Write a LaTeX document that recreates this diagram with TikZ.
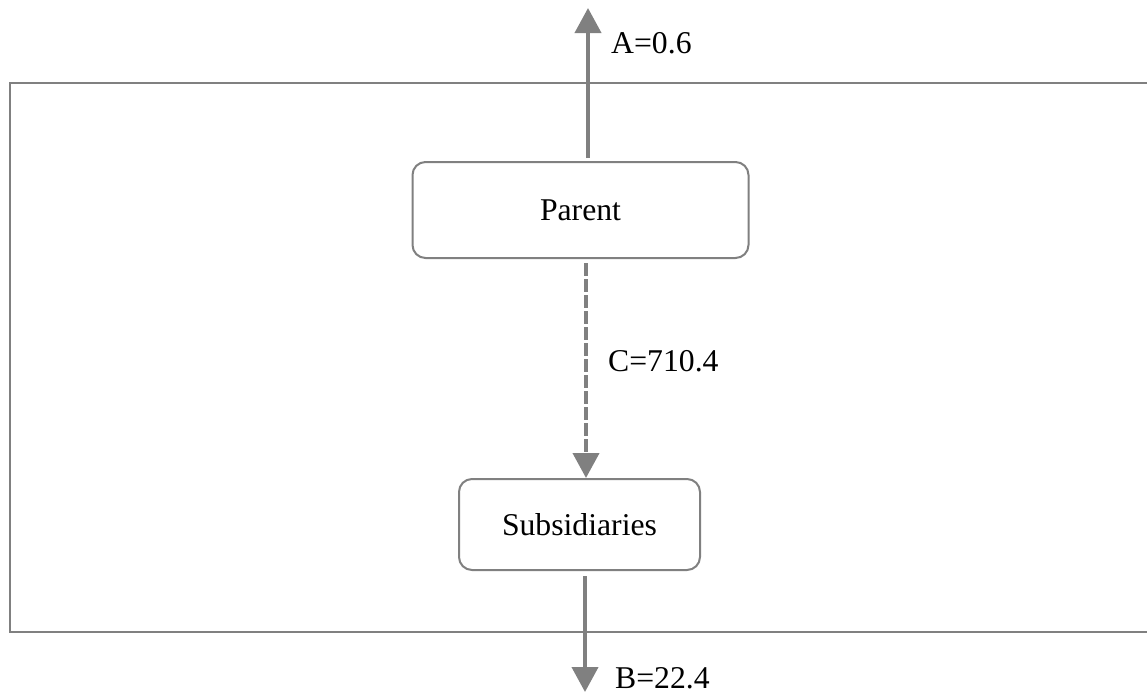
\documentclass[tikz,border=0pt]{standalone}
\usepackage{fontspec}
\setmainfont{Liberation Serif}
\usetikzlibrary{arrows.meta,calc}
\definecolor{linegray}{RGB}{128,128,128}
\begin{document}
\begin{tikzpicture}[x=1pt,y=-1pt,
  box/.style={draw=linegray,line width=2pt,rounded corners=13pt,fill=white,inner sep=0pt,font=\fontsize{31.7}{38}\selectfont},
  flow/.style={draw=linegray,line width=4pt,-{Triangle[width=26pt,length=25pt]}},
  lbl/.style={anchor=base west,inner sep=0pt,font=\fontsize{31.7}{38}\selectfont}]
\clip (0,0) rectangle (1147,694);
\draw[linegray,line width=2pt] (1170,83) -- (10,83) -- (10,632) -- (1170,632);
\node[box,minimum width=336pt,minimum height=96pt] (parent) at (580.5,210) {Parent};
\node[box,minimum width=241pt,minimum height=91pt] (subs) at (579.5,524.5) {Subsidiaries};
\coordinate (atip) at (588,8);
\coordinate (btip) at (585,692);
\coordinate (cx) at (586,0);
\draw[flow] (parent.north -| atip) ++(0,-3) -- (atip);
\draw[flow,dash pattern=on 12.5pt off 3.5pt] ($(parent.south -| cx)+(0,4)$) -- (subs.north -| cx);
\draw[flow] ($(subs.south -| btip)+(0,5)$) -- (btip);
\node[lbl] (alab) at (611,53) {A=0.6};
\node[lbl] (clab) at (608,371) {C=710.4};
\node[lbl] (blab) at (615,688) {B=22.4};
\end{tikzpicture}
\end{document}
